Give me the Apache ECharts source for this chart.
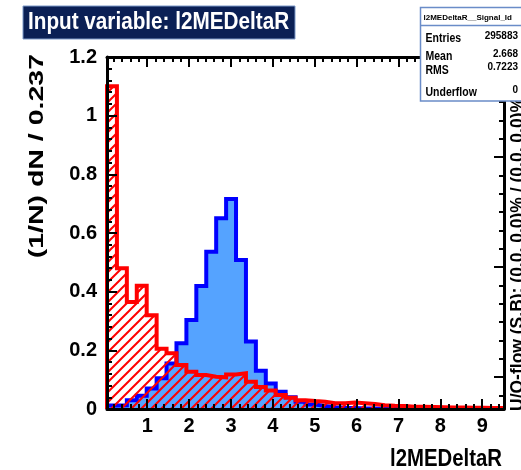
<!DOCTYPE html>
<html>
<head>
<meta charset="utf-8">
<script src="https://cdn.jsdelivr.net/npm/echarts@6/dist/echarts.min.js"></script>
<style>
html,body{margin:0;padding:0;background:#ffffff;}
#c{width:521px;height:470px;}
</style>
</head>
<body>
<div id="c"></div>
<script>
// ---- data ----
const xMin = 0.04;
const binWidth = 0.237;
const signal = [0.012, 0.013, 0.030, 0.045, 0.070, 0.105, 0.155, 0.224, 0.303, 0.419,
                0.536, 0.650, 0.716, 0.508, 0.230, 0.130, 0.087, 0.059, 0.040, 0.025,
                0.015, 0.010, 0.006, 0.004, 0.003, 0.002, 0.002, 0.001, 0.001, 0.001,
                0.001, 0, 0, 0, 0, 0, 0, 0, 0, 0];
const background = [1.100, 0.480, 0.365, 0.420, 0.320, 0.205, 0.190, 0.150, 0.127, 0.116,
                    0.110, 0.108, 0.118, 0.122, 0.093, 0.075, 0.063, 0.048, 0.038, 0.030,
                    0.027, 0.025, 0.020, 0.020, 0.022, 0.020, 0.017, 0.013, 0.011, 0.010,
                    0.008, 0.008, 0.007, 0.006, 0.005, 0.005, 0.004, 0.004, 0.003, 0.003];
const xTickValues = [1, 2, 3, 4, 5, 6, 7, 8, 9];
const xTickLabels = ['1', '2', '3', '4', '5', '6', '7', '8', '9'];
const yTickLabels = ['0', '0.2', '0.4', '0.6', '0.8', '1', '1.2'];
const rightMajorTicks = [0.109, 0.484, 0.859];
const statLabels = ['Entries', 'Mean', 'RMS', 'Underflow'];
const statValues = ['295883', '2.668', '0.7223', '0'];
const titleText = 'Input variable: l2MEDeltaR';
const xTitle = 'l2MEDeltaR';
const yTitle = '(1/N) dN / 0.237';
const rightTitle = 'U/O-flow (S,B): (0.0, 0.0)% / (0.0, 0.0)%';
const statTitle = 'l2MEDeltaR__Signal_Id';

// ---- helpers ----
const xMax = xMin + background.length * binWidth;
function stepData(vals) {
  const d = [[xMin, 0]];
  vals.forEach((v, i) => d.push([xMin + i * binWidth, v]));
  d.push([xMax, vals[vals.length - 1]]);
  d.push([xMax, 0]);
  return d;
}
const xMinor = [];
for (let k = 1; k * 0.2 < xMax; k++) { if (k % 5 !== 0) xMinor.push(+(k * 0.2).toFixed(2)); }
const rightMinor = [];
for (let k = -1; k < 20; k++) {
  const v = +(rightMajorTicks[0] + k * 0.0625).toFixed(4);
  if (v > 0 && v < 1.2 && k % 6 !== 0) rightMinor.push(v);
}

const hatch = document.createElement('canvas');
hatch.width = 10; hatch.height = 10;
const g = hatch.getContext('2d');
g.strokeStyle = '#ff0000'; g.lineWidth = 2;
g.beginPath();
g.moveTo(-1, 11); g.lineTo(11, -1);
g.moveTo(-6, 6); g.lineTo(6, -6);
g.moveTo(4, 16); g.lineTo(16, 4);
g.stroke();

const FONT = '"Liberation Sans", Arial, Helvetica, sans-serif';
const black = '#000000';

function xAx(pos, ticks, len, showLine, showLabel) {
  return {
    type: 'value', min: xMin, max: xMax, position: pos, z: 10,
    axisLine: { show: showLine, onZero: false, lineStyle: { color: black, width: 3 } },
    axisTick: { show: true, inside: true, length: len, customValues: ticks, lineStyle: { color: black, width: 2 } },
    axisLabel: showLabel ? {
      show: true, customValues: xTickValues, margin: 7,
      formatter: v => xTickLabels[xTickValues.indexOf(Math.round(v))],
      color: black, fontSize: 20, fontWeight: 'bold', fontFamily: FONT
    } : { show: false },
    splitLine: { show: false }
  };
}
function yRight(ticks, len, showLine) {
  return {
    type: 'value', min: 0, max: 1.2, position: 'right', z: 10,
    axisLine: { show: showLine, onZero: false, lineStyle: { color: black, width: 3 } },
    axisTick: { show: true, inside: true, length: len, customValues: ticks, lineStyle: { color: black, width: 2 } },
    axisLabel: { show: false },
    splitLine: { show: false }
  };
}

const chart = echarts.init(document.getElementById('c'), null, { width: 521, height: 470 });
const statGraphics = [];
const labelY = [38.5, 57, 70.5, 93];
const valueY = [36, 53.5, 67, 90];
statLabels.forEach((t, i) => {
  statGraphics.push({ type: 'text', x: 425.5, y: labelY[i], scaleY: 1.15, z: 101,
    style: { text: t, fill: black, font: 'bold 10.5px ' + FONT, textAlign: 'left', textVerticalAlign: 'middle' } });
  statGraphics.push({ type: 'text', x: 518, y: valueY[i], scaleY: 1.1, z: 101,
    style: { text: statValues[i], fill: black, font: 'bold 10px ' + FONT, textAlign: 'right', textVerticalAlign: 'middle' } });
});

chart.setOption({
  animation: false,
  backgroundColor: '#ffffff',
  grid: { left: 107, right: 17, top: 57, bottom: 61, containLabel: false, outerBoundsMode: 'none' },
  xAxis: [
    xAx('bottom', xTickValues, 10, true, true),
    xAx('bottom', xMinor, 5, false, false),
    xAx('top', xTickValues, 10, true, false),
    xAx('top', xMinor, 5, false, false)
  ],
  yAxis: [
    {
      type: 'value', min: 0, max: 1.2, interval: 0.2, position: 'left', z: 10,
      axisLine: { show: true, onZero: false, lineStyle: { color: black, width: 3 } },
      axisTick: { show: true, inside: true, length: 10, lineStyle: { color: black, width: 2 } },
      minorTick: { show: true, splitNumber: 5, length: 5, lineStyle: { color: black, width: 2 } },
      axisLabel: {
        show: true, margin: 10, showMinLabel: true, showMaxLabel: true,
        formatter: v => yTickLabels[Math.round(v / 0.2)],
        color: black, fontSize: 20, fontWeight: 'bold', fontFamily: FONT
      },
      splitLine: { show: false }, minorSplitLine: { show: false }
    },
    yRight(rightMajorTicks, 10, true),
    yRight(rightMinor, 5, false)
  ],
  series: [
    {
      type: 'line', name: 'Signal', data: stepData(signal), step: 'end',
      xAxisIndex: 0, yAxisIndex: 0, symbol: 'none', showSymbol: false, z: 2,
      lineStyle: { color: '#0000ff', width: 4, join: 'miter', cap: 'butt' },
      areaStyle: { color: '#55a3ff', opacity: 1 }
    },
    {
      type: 'line', name: 'Background', data: stepData(background), step: 'end',
      xAxisIndex: 0, yAxisIndex: 0, symbol: 'none', showSymbol: false, z: 3,
      lineStyle: { color: '#ff0000', width: 4, join: 'miter', cap: 'butt' },
      areaStyle: { color: { image: hatch, repeat: 'repeat' }, opacity: 1 }
    }
  ],
  graphic: [
    { type: 'rect', shape: { x: 23, y: 6, width: 272, height: 33 }, z: 100,
      style: { fill: '#0b2055', stroke: '#7d99c9', lineWidth: 1 } },
    { type: 'text', x: 28, y: 22.5, scaleX: 0.9, z: 101,
      style: { text: titleText, fill: '#ffffff', font: 'bold 23px ' + FONT, textAlign: 'left', textVerticalAlign: 'middle' } },
    { type: 'rect', shape: { x: 420.5, y: 7.5, width: 110, height: 93.5 }, z: 100,
      style: { fill: '#ffffff', stroke: '#6a8cc8', lineWidth: 1.5 } },
    { type: 'line', shape: { x1: 420.5, y1: 25.5, x2: 530, y2: 25.5 }, z: 101,
      style: { stroke: '#6a8cc8', lineWidth: 1.5 } },
    { type: 'text', x: 423.5, y: 18, z: 101,
      style: { text: statTitle, fill: black, font: 'bold 8px ' + FONT, textAlign: 'left', textVerticalAlign: 'middle' } },
    ...statGraphics,
    { type: 'text', x: 27, y: 54, rotation: Math.PI / 2, scaleY: 0.72, z: 101,
      style: { text: yTitle, fill: black, font: 'bold 28.5px ' + FONT, textAlign: 'right', textVerticalAlign: 'top' } },
    { type: 'text', x: 502, y: 459.5, scaleX: 0.885, z: 101,
      style: { text: xTitle, fill: black, font: 'bold 23px ' + FONT, textAlign: 'right', textVerticalAlign: 'middle' } },
    { type: 'text', x: 509, y: 411, rotation: Math.PI / 2, z: 99,
      style: { text: rightTitle, fill: black, font: 'bold 17.5px ' + FONT, textAlign: 'left', textVerticalAlign: 'top' } }
  ]
});
</script>
</body>
</html>
